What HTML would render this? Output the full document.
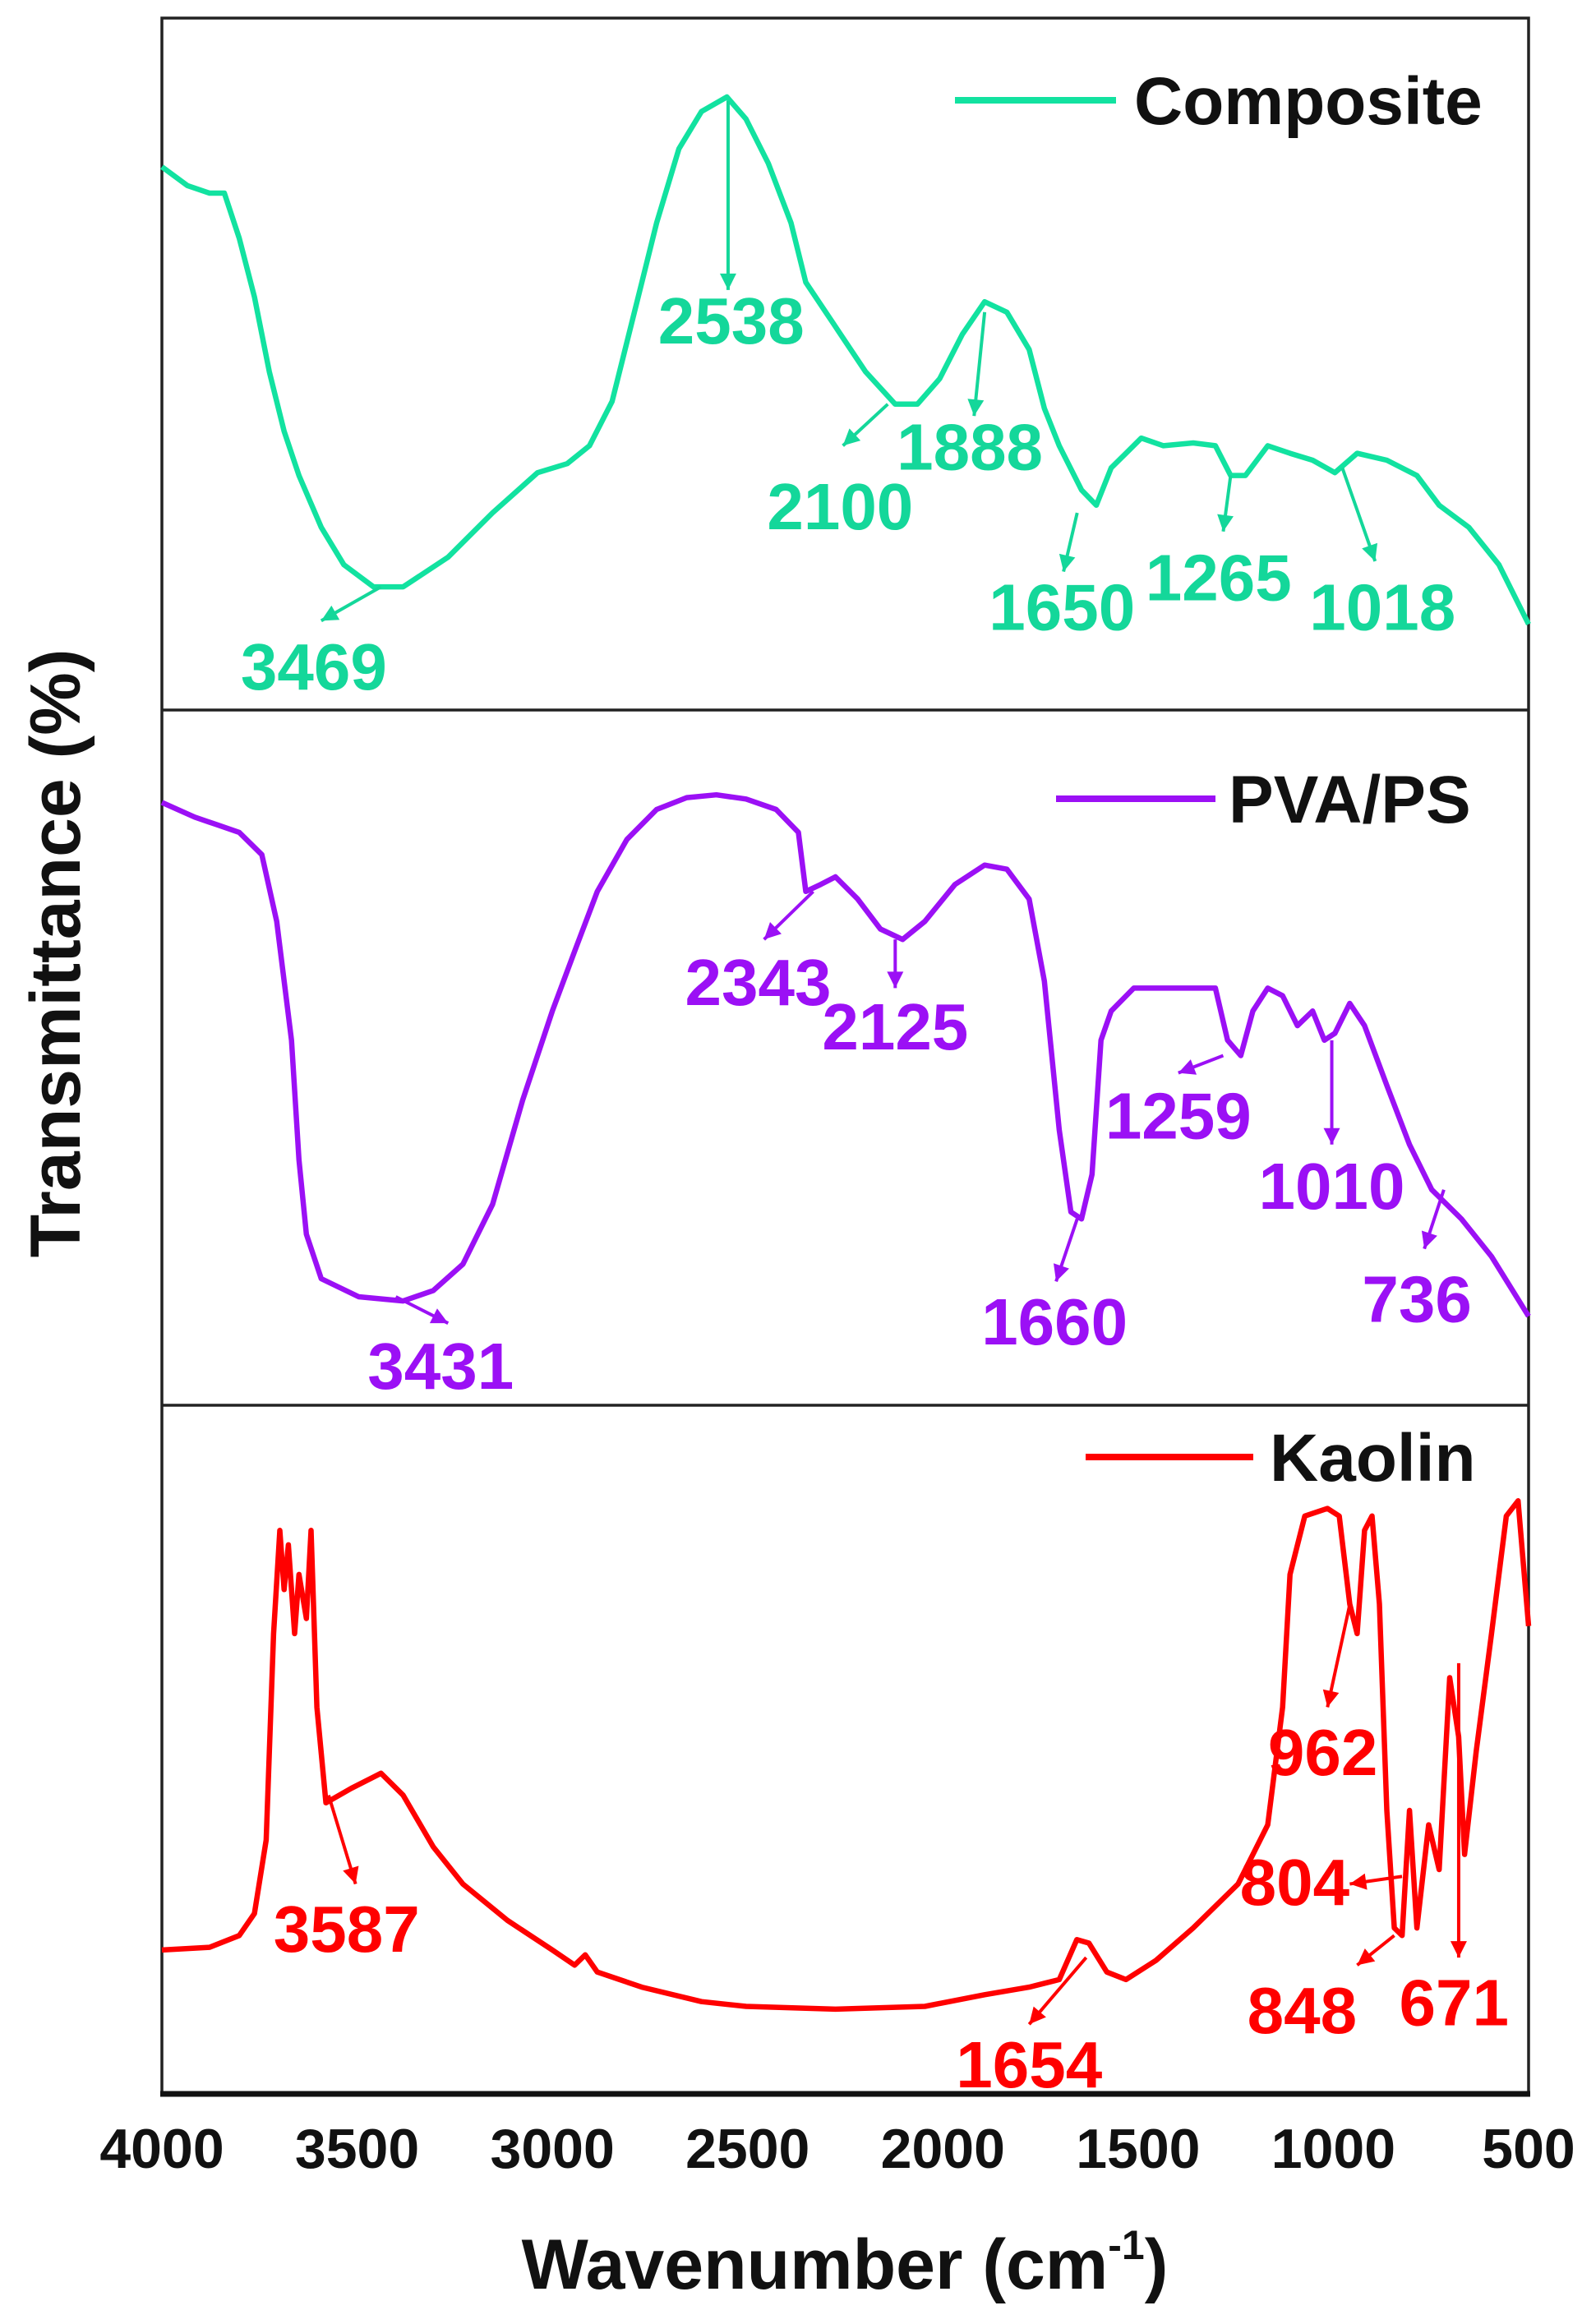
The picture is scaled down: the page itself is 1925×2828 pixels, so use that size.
<!DOCTYPE html>
<html><head><meta charset="utf-8"><style>
html,body{margin:0;padding:0;background:#fff;}
svg{display:block;font-family:"Liberation Sans",Arial,sans-serif;font-weight:bold;}
</style></head><body>
<svg id="chart" width="1925" height="2828" viewBox="0 0 1925 2828" xmlns="http://www.w3.org/2000/svg">
<g id="frame"></g>
<g id="series"></g>
<g id="annots"></g>
<g id="axes"></g>
</svg>
<script>
// ---- data ----
const xTicks = [4000,3500,3000,2500,2000,1500,1000,500];
const seriesNames = ["Composite","PVA/PS","Kaolin"];
const seriesColors = ["#12e2a0","#9b10f5","#ff0000"];
const labelColors = ["#14d79a","#9b10f5","#ff0000"];

const compWn = [4000,3935,3878,3840,3802,3763,3725,3687,3649,3592,3534,3458,3382,3267,3153,3038,2962,2905,2847,2809,2771,2733,2676,2618,2553,2504,2447,2389,2351,2275,2198,2122,2065,2008,1950,1893,1836,1779,1740,1702,1645,1607,1569,1531,1492,1435,1359,1302,1263,1225,1168,1111,1053,996,939,863,786,729,653,576,500];
const compVal = [78.5,75.8,74.7,74.7,68.2,59.7,48.9,40.3,33.9,26.4,21,17.8,17.8,22.1,28.5,34.3,35.6,38.2,44.6,53.2,61.8,70.4,81.1,86.5,88.6,85.4,79,70.4,61.8,55.4,48.9,44.2,44.2,47.9,54.3,59,57.5,52.1,43.6,38.2,31.8,29.6,35,37.1,39.3,38.2,38.6,38.2,33.9,33.9,38.2,37.1,36.1,34.3,37.1,36.1,33.9,29.6,26.4,21,12.4];

const pvaWn = [4000,3916,3859,3802,3744,3706,3668,3649,3630,3592,3496,3382,3305,3229,3153,3076,3000,2943,2885,2809,2733,2656,2580,2504,2427,2370,2351,2313,2275,2218,2160,2103,2046,1969,1893,1836,1779,1740,1702,1672,1645,1618,1595,1569,1511,1435,1359,1302,1271,1237,1206,1168,1130,1092,1053,1023,996,958,920,863,805,748,672,595,500];
const pvaVal = [86.7,84.6,83.5,82.4,79.2,69.6,52.5,35.3,24.6,18.2,15.6,15,16.5,20.3,28.9,43.9,56.7,65.3,73.9,81.4,85.7,87.4,87.8,87.2,85.7,82.4,73.9,74.9,76,72.8,68.5,67,69.6,74.9,77.7,77.1,72.8,61,39.6,27.8,26.8,33.2,52.5,56.7,60,60,60,60,52.5,50.3,56.7,60,58.9,54.6,56.7,52.5,53.5,57.8,54.6,46,37.5,31,26.8,21.4,12.8];

const kaoWn = [4000,3878,3802,3763,3733,3714,3698,3687,3676,3660,3649,3630,3618,3603,3580,3515,3439,3382,3305,3229,3115,3000,2943,2916,2885,2771,2618,2504,2275,2046,1893,1779,1702,1657,1626,1580,1531,1454,1359,1244,1168,1130,1111,1073,1015,985,958,939,920,901,882,863,844,824,805,786,756,729,702,679,664,634,595,557,527,500];
const kaoVal = [20.8,21.2,22.9,26.1,36.8,66.8,81.8,73.2,79.7,66.8,75.4,69,81.8,56.1,42.2,44.3,46.5,43.3,35.8,30.4,25.1,20.8,18.6,20.1,17.6,15.4,13.3,12.6,12.2,12.6,14.3,15.4,16.5,22.3,21.8,17.6,16.5,19.3,24,30.4,39,56.1,75.4,83.9,85,83.9,71.1,66.8,81.8,83.9,71.1,41.1,24,22.9,41.1,24,39,32.5,60.4,51.8,34.7,49.7,66.8,83.9,86.1,67.9];

// annotations
const annLabels = ["3469","2538","2100","1888","1650","1265","1018","3431","2343","2125","1660","1259","1010","736","3587","1654","962","804","848","671"];
const annPanel = [0,0,0,0,0,0,0,1,1,1,1,1,1,1,2,2,2,2,2,2];
const annFromWn = [3439,2550,2141,1893,1656,1263,977,3401,2332,2122,1656,1282,1004,717,3573,1633,958,824,844,679];
const annFromVal = [17.8,88,44.2,57.5,28.5,33.9,35,15.6,73.9,67,26.8,50.3,52.5,31,43.3,19.7,71,31.5,22.9,62.5];
const annToWn = [3592,2550,2256,1920,1691,1282,893,3267,2458,2122,1710,1397,1004,767,3504,1779,1015,958,939,679];
const annToVal = [12.9,60.7,38.2,42.5,20,25.8,21.5,11.8,67,60,17.8,47.8,37.5,22.5,30.4,10,56.1,30.4,18.6,19.7];
const annTextWn = [3611,2542,2263,1931,1695,1294,874,3286,2473,2122,1714,1397,1004,786,3527,1779,1027,1099,1080,691];
const annTextVal = [6.4,56.4,29.6,38.2,15,19.3,15,5.8,61,54.6,12.2,41.8,31.7,15.4,24,4.3,49.7,30.8,12.2,13.3];

// ---- layout ----
const L=197, R=1860;
const panelTops=[22,864,1710], panelBots=[864,1710,2547];
const NS="http://www.w3.org/2000/svg";
function x(wn){return L+(4000-wn)/3500*(R-L);}
function y(p,v){return panelBots[p]-v/100*(panelBots[p]-panelTops[p]);}
function el(tag,attrs,parent){const e=document.createElementNS(NS,tag);for(const k in attrs)e.setAttribute(k,attrs[k]);parent.appendChild(e);return e;}

const frame=document.getElementById('frame'), series=document.getElementById('series'), annots=document.getElementById('annots'), axes=document.getElementById('axes');

const box=el('rect',{x:L,y:22,width:R-L,height:2547-22,fill:'none',stroke:'#222','stroke-width':3.5},frame);


for(let i=1;i<3;i++){
  const d=el('line',{x1:L,x2:R,y1:panelTops[i],y2:panelTops[i],stroke:'#222','stroke-width':3.5},frame);
  
  
}
const xb=el('line',{x1:L-2,x2:R+2,y1:2548,y2:2548,stroke:'#111','stroke-width':7},frame);



const allWn=[compWn,pvaWn,kaoWn], allVal=[compVal,pvaVal,kaoVal];
const names=['composite-spectrum','pva-ps-spectrum','kaolin-spectrum'];
for(let p=0;p<3;p++){
  const pts=allWn[p].map((w,i)=>x(w).toFixed(1)+','+y(p,allVal[p][i]).toFixed(1)).join(' ');
  const pl=el('polyline',{points:pts,fill:'none',stroke:seriesColors[p],'stroke-width':6.5,'stroke-linejoin':'round'},series);
  
  
}

// legends
const legLineX=[[1162,1358],[1285,1479],[1321,1525]];
const legTextX=[1380,1495,1545];
const legY=[122,972,1773];
for(let p=0;p<3;p++){
  const ln=el('line',{x1:legLineX[p][0],x2:legLineX[p][1],y1:legY[p],y2:legY[p],stroke:seriesColors[p],'stroke-width':8},axes);
  
  
  const t=el('text',{x:legTextX[p],y:legY[p]+29,'font-size':82,fill:'#111'},axes);
  t.textContent=seriesNames[p];
  
  
}

// annotations
for(let i=0;i<annLabels.length;i++){
  const p=annPanel[i], c=labelColors[p];
  const x1=x(annFromWn[i]),y1=y(p,annFromVal[i]),x2=x(annToWn[i]),y2=y(p,annToVal[i]);
  const ln=el('line',{x1:x1,y1:y1,x2:x2,y2:y2,stroke:c,'stroke-width':4},annots);
  
  
  const a=Math.atan2(y2-y1,x2-x1), s=20;
  const hp=[[x2,y2],[x2-s*Math.cos(a)+s*0.5*Math.sin(a),y2-s*Math.sin(a)-s*0.5*Math.cos(a)],[x2-s*Math.cos(a)-s*0.5*Math.sin(a),y2-s*Math.sin(a)+s*0.5*Math.cos(a)]];
  const hd=el('polygon',{points:hp.map(q=>q.join(',')).join(' '),fill:c},annots);
  
  
  const t=el('text',{x:x(annTextWn[i]),y:y(p,annTextVal[i])+29,'font-size':80,fill:c,'text-anchor':'middle'},annots);
  t.textContent=annLabels[i];
  
  
}

// x ticks
for(const v of xTicks){
  const t=el('text',{x:x(v),y:2638,'font-size':68,fill:'#111','text-anchor':'middle'},axes);
  t.textContent=v;
  
  
}
const xt=el('text',{x:1028,y:2785,'font-size':86,fill:'#111','text-anchor':'middle'},axes);
xt.innerHTML='Wavenumber (cm<tspan dy="-36" font-size="50">-1</tspan><tspan dy="36">)</tspan>';


const yt=el('text',{x:0,y:0,'font-size':86,fill:'#111','text-anchor':'middle',transform:'translate(97,1160) rotate(-90)'},axes);
yt.textContent='Transmittance (%)';


</script>
</body></html>
